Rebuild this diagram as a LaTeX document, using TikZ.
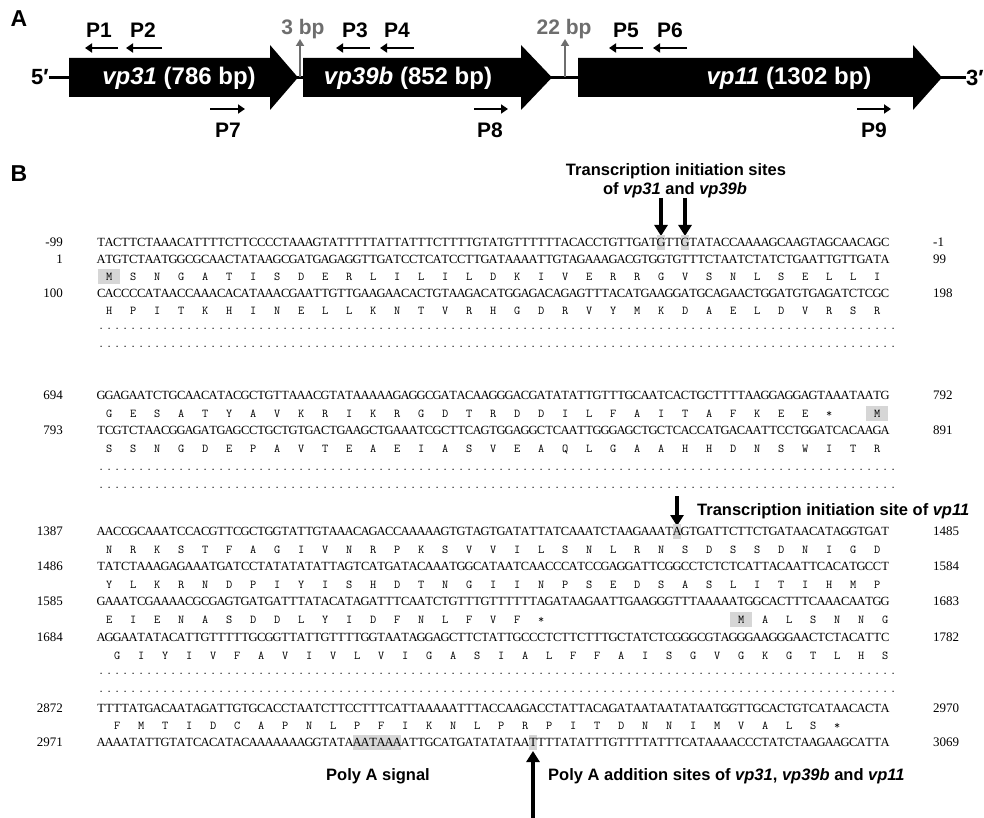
\documentclass[tikz,border=0pt]{standalone}
\usepackage{fontspec}
\setmainfont{Liberation Serif}
\newfontfamily\arial{Liberation Sans}
\usetikzlibrary{arrows.meta}
\definecolor{hl}{HTML}{D6D6D6}
\definecolor{bpgray}{HTML}{6E6E6E}
\newlength\ntw \setlength\ntw{8pt}
\newlength\aaw \setlength\aaw{24pt}
\def\hlnt#1{\rlap{\color{hl}\rule[-4pt]{\ntw}{15pt}}\makebox[\ntw]{#1}}
\def\ntiter#1{\ifx#1\relax\else\ifnum`#1>`Z \hlnt{\uppercase{#1}}\else\makebox[\ntw]{#1}\fi\expandafter\ntiter\fi}
\newcommand\nts[1]{\ntiter#1\relax}
\def\hlaa#1{\makebox[\aaw]{\makebox[0pt]{\color{hl}\rule[-4pt]{22pt}{15pt}}\makebox[0pt]{#1}}}
\def\aaiter#1{\ifx#1\relax\else\ifx#1-\makebox[\aaw]{}\else\ifx#1m\hlaa{M}\else\makebox[\aaw]{#1}\fi\fi\expandafter\aaiter\fi}
\newcommand\aas[1]{\aaiter#1\relax}
\newcount\dotc
\newcommand\dotrow{\dotc=0 \loop\makebox[\ntw]{.}\advance\dotc by 1 \ifnum\dotc<100 \repeat}
\tikzset{
  panel/.style={font=\arial\bfseries\fontsize{23}{25}\selectfont, inner sep=0},
  plab/.style={font=\arial\bfseries\fontsize{21}{23}\selectfont, inner sep=0},
  bplab/.style={font=\arial\bfseries\fontsize{21}{23}\selectfont, text=bpgray, inner sep=0},
  genelab/.style={font=\arial\bfseries\fontsize{24}{26}\selectfont, text=white, inner sep=0},
  endlab/.style={font=\arial\bfseries\fontsize{22}{24}\selectfont, inner sep=0},
  parrow/.style={line width=2.6pt, -{Triangle[width=9pt,length=7pt]}},
  grayarrow/.style={draw=bpgray, line width=2pt, -{Triangle[width=8pt,length=7pt]}},
  bigarrow/.style={line width=3.2pt, -{Triangle[width=13pt,length=11pt]}},
  seq/.style={anchor=base west, inner sep=0, font=\fontsize{12.5}{14}\selectfont},
  aa/.style={anchor=base west, inner sep=0, font=\ttfamily\fontsize{12}{14}\selectfont},
  dotsrow/.style={anchor=base west, inner sep=0, font=\ttfamily\fontsize{12}{14}\selectfont},
  numl/.style={anchor=base east, inner sep=0, font=\fontsize{13}{15}\selectfont},
  numr/.style={anchor=base west, inner sep=0, font=\fontsize{13}{15}\selectfont},
  title/.style={font=\arial\bfseries\fontsize{16.5}{19}\selectfont, inner sep=0},
}
\begin{document}
\begin{tikzpicture}[x=1pt,y=-1pt]
\useasboundingbox (0,0) rectangle (984,818);
% ---------------- Panel A ----------------
\node[panel] (A) at (19,19) {A};
\node[endlab] (five) at (40,77.5) {5′};
\node[endlab, anchor=west] (three) at (966,77.5) {3′};
\draw[line width=3pt] (five.east) -- (three.west);
\fill (69,58) -- (270,58) -- (270,45) -- (298,77.5) -- (270,110) -- (270,97) -- (69,97) -- cycle;
\fill (303,58) -- (521,58) -- (521,45) -- (552,77.5) -- (521,110) -- (521,97) -- (303,97) -- cycle;
\fill (578,58) -- (913,58) -- (913,45) -- (942,77.5) -- (913,110) -- (913,97) -- (578,97) -- cycle;
\node[genelab] (g1) at (179,78) {\textit{vp31} (786 bp)};
\node[genelab] (g2) at (408,78) {\textit{vp39b} (852 bp)};
\node[genelab] (g3) at (789,78) {\textit{vp11} (1302 bp)};
% gaps
\node[bplab] (bp3) at (303,29) {3 bp};
\node[bplab] (bp22) at (564,29) {22 bp};
\coordinate (j1) at (300,77);
\coordinate (j2) at (565,77);
\draw[grayarrow] (j1) -- (bp3.south -| j1);
\draw[grayarrow] (j2) -- (bp22.south -| j2);
% primers above
\node[plab] (P1) at (99,30) {P1};
\node[plab] (P2) at (143,30) {P2};
\node[plab] (P3) at (355,30) {P3};
\node[plab] (P4) at (397,30) {P4};
\node[plab] (P5) at (626,30) {P5};
\node[plab] (P6) at (670,30) {P6};
\foreach \n/\a/\b in {1/118/85, 2/162/126, 3/370/336, 4/414/380, 5/643/609, 6/687/653}{
  \coordinate (pa\n) at (\a,48);
  \coordinate (pb\n) at (\b,48);
  \draw[parrow] (pa\n) -- (pb\n);
}
% primers below
\node[plab] (P7) at (228,130) {P7};
\node[plab] (P8) at (490,130) {P8};
\node[plab] (P9) at (874,130) {P9};
\foreach \n/\a/\b in {7/210/245, 8/474/508, 9/857/891}{
  \coordinate (pa\n) at (\a,109);
  \coordinate (pb\n) at (\b,109);
  \draw[parrow] (pa\n) -- (pb\n);
}
% ---------------- Panel B ----------------
\node[panel] (B) at (19,174) {B};
\node[title] (t1a) at (676,171) {Transcription initiation sites};
\node[title] (t1b) at (675,190) {of \textit{vp31} and \textit{vp39b}};
\coordinate (ta1) at (661,198); \coordinate (tb1) at (661,236);
\coordinate (ta2) at (685,198); \coordinate (tb2) at (685,236);
\draw[bigarrow] (ta1) -- (tb1);
\draw[bigarrow] (ta2) -- (tb2);
% block 1
\node[numl] (l1) at (63,246) {-99};
\node[seq] (s1) at (97,246) {\nts{TACTTCTAAACATTTTCTTCCCCTAAAGTATTTTTATTATTTCTTTTGTATGTTTTTTACACCTGTTGATgTTgTATACCAAAAGCAAGTAGCAACAGC}};
\node[numr] (r1) at (933,246) {-1};
\node[numl] (l2) at (63,263) {1};
\node[seq] (s2) at (97,263) {\nts{ATGTCTAATGGCGCAACTATAAGCGATGAGAGGTTGATCCTCATCCTTGATAAAATTGTAGAAAGACGTGGTGTTTCTAATCTATCTGAATTGTTGATA}};
\node[numr] (r2) at (933,263) {99};
\node[aa] (a2) at (97,280) {\aas{mSNGATISDERLILILDKIVERRGVSNLSELLI}};
\node[numl] (l3) at (63,297) {100};
\node[seq] (s3) at (97,297) {\nts{CACCCCATAACCAAACACATAAACGAATTGTTGAAGAACACTGTAAGACATGGAGACAGAGTTTACATGAAGGATGCAGAACTGGATGTGAGATCTCGC}};
\node[numr] (r3) at (933,297) {198};
\node[aa] (a3) at (97,314) {\aas{HPITKHINELLKNTVRHGDRVYMKDAELDVRSR}};
\node[dotsrow] (d1) at (97,329) {\dotrow};
\node[dotsrow] (d2) at (97,347) {\dotrow};
% block 2
\node[numl] (l4) at (63,399) {694};
\node[seq] (s4) at (97,399) {\nts{GGAGAATCTGCAACATACGCTGTTAAACGTATAAAAAGAGGCGATACAAGGGACGATATATTGTTTGCAATCACTGCTTTTAAGGAGGAGTAAATAATG}};
\node[numr] (r4) at (933,399) {792};
\node[aa] (a4) at (97,417) {\aas{GESATYAVKRIKRGDTRDDILFAITAFKEE*-m}};
\node[numl] (l5) at (63,434) {793};
\node[seq] (s5) at (97,434) {\nts{TCGTCTAACGGAGATGAGCCTGCTGTGACTGAAGCTGAAATCGCTTCAGTGGAGGCTCAATTGGGAGCTGCTCACCATGACAATTCCTGGATCACAAGA}};
\node[numr] (r5) at (933,434) {891};
\node[aa] (a5) at (97,452) {\aas{SSNGDEPAVTEAEIASVEAQLGAAHHDNSWITR}};
\node[dotsrow] (d3) at (97,470) {\dotrow};
\node[dotsrow] (d4) at (97,488) {\dotrow};
% vp11 TSS
\node[title, anchor=west] (t2) at (697,511) {Transcription initiation site of \textit{vp11}};
\coordinate (ta3) at (677,496); \coordinate (tb3) at (677,526);
\draw[bigarrow] (ta3) -- (tb3);
% block 3
\node[numl] (l6) at (63,535) {1387};
\node[seq] (s6) at (97,535) {\nts{AACCGCAAATCCACGTTCGCTGGTATTGTAAACAGACCAAAAAGTGTAGTGATATTATCAAATCTAAGAAATaGTGATTCTTCTGATAACATAGGTGAT}};
\node[numr] (r6) at (933,535) {1485};
\node[aa] (a6) at (97,553) {\aas{NRKSTFAGIVNRPKSVVILSNLRNSDSSDNIGD}};
\node[numl] (l7) at (63,570) {1486};
\node[seq] (s7) at (97,570) {\nts{TATCTAAAGAGAAATGATCCTATATATATTAGTCATGATACAAATGGCATAATCAACCCATCCGAGGATTCGGCCTCTCTCATTACAATTCACATGCCT}};
\node[numr] (r7) at (933,570) {1584};
\node[aa] (a7) at (97,588) {\aas{YLKRNDPIYISHDTNGIINPSEDSASLITIHMP}};
\node[numl] (l8) at (63,605) {1585};
\node[seq] (s8) at (97,605) {\nts{GAAATCGAAAACGCGAGTGATGATTTATACATAGATTTCAATCTGTTTGTTTTTTAGATAAGAATTGAAGGGTTTAAAAATGGCACTTTCAAACAATGG}};
\node[numr] (r8) at (933,605) {1683};
\node[aa] (a8a) at (97,623) {\aas{EIENASDDLYIDFNLFVF*}};
\node[aa] (a8b) at (729,623) {\aas{mALSNNG}};
\node[numl] (l9) at (63,641) {1684};
\node[seq] (s9) at (97,641) {\nts{AGGAATATACATTGTTTTTGCGGTTATTGTTTTGGTAATAGGAGCTTCTATTGCCCTCTTCTTTGCTATCTCGGGCGTAGGGAAGGGAACTCTACATTC}};
\node[numr] (r9) at (933,641) {1782};
\node[aa] (a9) at (105,659) {\aas{GIYIVFAVIVLVIGASIALFFAISGVGKGTLHS}};
\node[dotsrow] (d5) at (97,674) {\dotrow};
\node[dotsrow] (d6) at (97,692) {\dotrow};
% block 4
\node[numl] (l10) at (63,712) {2872};
\node[seq] (s10) at (97,712) {\nts{TTTTATGACAATAGATTGTGCACCTAATCTTCCTTTCATTAAAAATTTACCAAGACCTATTACAGATAATAATATAATGGTTGCACTGTCATAACACTA}};
\node[numr] (r10) at (933,712) {2970};
\node[aa] (a10) at (105,729) {\aas{FMTIDCAPNLPFIKNLPRPITDNNIMVALS*}};
\node[numl] (l11) at (63,746) {2971};
\node[seq] (s11) at (97,746) {\nts{AAAATATTGTATCACATACAAAAAAAGGTATAaataaaATTGCATGATATATAAtTTTATATTTGTTTTATTTCATAAAACCCTATCTAAGAAGCATTA}};
\node[numr] (r11) at (933,746) {3069};
\node[title] (pas) at (378,776) {Poly A signal};
\node[title, anchor=west] (paa) at (548,776) {Poly A addition sites of \textit{vp31}, \textit{vp39b} and \textit{vp11}};
\coordinate (ta4) at (533,818); \coordinate (tb4) at (533,751);
\draw[bigarrow] (ta4) -- (tb4);
\end{tikzpicture}
\end{document}
